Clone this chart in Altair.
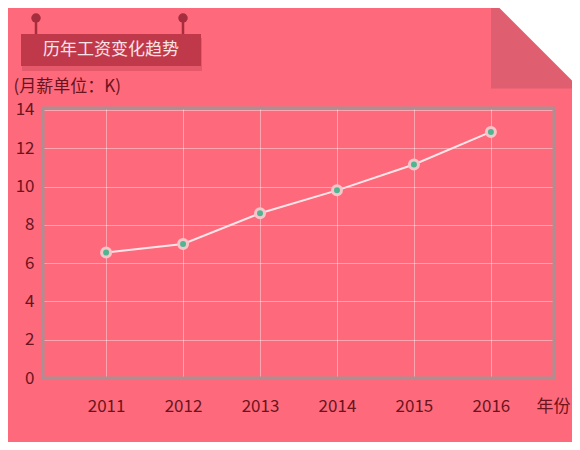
import altair as alt
import pandas as pd

# ---- data ----
years = ["2011", "2012", "2013", "2014", "2015", "2016"]
salary = [6.55, 7.0, 8.6, 9.8, 11.15, 12.85]
y_ticks = [0, 2, 4, 6, 8, 10, 12, 14]
title_text = "历年工资变化趋势"
y_title = "(月薪单位：K)"
x_title = "年份"

BG = "#fe6a7b"
LABEL = "#6a1420"
FONT = "Noto Sans CJK SC"
W, H = 511, 270

df = pd.DataFrame({"year": years, "salary": salary})
one = pd.DataFrame({"k": [0]})

x_enc = alt.X(
    "year:O",
    scale=alt.Scale(type="point", padding=0.82),
    axis=alt.Axis(
        title=x_title, labelAngle=0, ticks=False, tickSize=0, domain=False,
        labelPadding=28, labelBaseline="middle", labelFontSize=17,
        labelColor=LABEL, labelFont=FONT,
        grid=True, gridColor="#ffffff", gridOpacity=0.4, gridWidth=1,
        titleX=510, titleY=28, titleAlign="center", titleBaseline="middle",
        titleFontSize=17, titleFontWeight="normal", titleColor=LABEL, titleFont=FONT,
    ),
)
y_enc = alt.Y(
    "salary:Q",
    scale=alt.Scale(domain=[0, 14.1], nice=False, zero=True),
    axis=alt.Axis(
        values=y_ticks, format="d", title=y_title, ticks=False, tickSize=0,
        domain=False, labelPadding=9, labelFontSize=17, labelColor=LABEL,
        labelFont=FONT, grid=True, gridColor="#ffffff", gridOpacity=0.4, gridWidth=1,
        titleAngle=0, titleX=-30, titleY=-22, titleAlign="left",
        titleBaseline="middle", titleFontSize=17, titleFontWeight="normal",
        titleColor=LABEL, titleFont=FONT,
    ),
)

# ---- decorations ----
fold_dark = alt.Chart(one).mark_point(
    shape="M -1 -1 L -1 1 L 1 1 Z", filled=True, fill="#df5f70",
    strokeWidth=0, opacity=1, size=89 * 89,
).encode(x=alt.value(492.5), y=alt.value(-64))
fold_white = alt.Chart(one).mark_point(
    shape="M -1 -1 L 1 -1 L 1 1 Z", filled=True, fill="#ffffff",
    strokeWidth=0, opacity=1, size=89 * 89,
).encode(x=alt.value(492.5), y=alt.value(-64))

banner_shadow = alt.Chart(one).mark_rect(color="#7a1020", opacity=0.18).encode(
    x=alt.value(-21), x2=alt.value(159), y=alt.value(-70), y2=alt.value(-37)
)
banner = alt.Chart(one).mark_rect(color="#c0394b").encode(
    x=alt.value(-22), x2=alt.value(158), y=alt.value(-74), y2=alt.value(-42)
)
stem1 = alt.Chart(one).mark_rule(color="#a52d3d", strokeWidth=2.5).encode(
    x=alt.value(-7), y=alt.value(-90), y2=alt.value(-74)
)
stem2 = alt.Chart(one).mark_rule(color="#a52d3d", strokeWidth=2.5).encode(
    x=alt.value(140), y=alt.value(-90), y2=alt.value(-74)
)
pin1 = alt.Chart(one).mark_circle(color="#a52d3d", opacity=1, size=90).encode(
    x=alt.value(-7), y=alt.value(-90)
)
pin2 = alt.Chart(one).mark_circle(color="#a52d3d", opacity=1, size=90).encode(
    x=alt.value(140), y=alt.value(-90)
)
banner_text = alt.Chart(one).mark_text(
    text=title_text, font=FONT, fontSize=17, color="#fbe3e5",
    align="center", baseline="middle",
).encode(x=alt.value(68), y=alt.value(-58))

frame = alt.Chart(one).mark_rect(
    fillOpacity=0, stroke="#ad8e92", strokeWidth=3
).encode(x=alt.value(0), x2=alt.value(W), y=alt.value(0), y2=alt.value(H))

line = alt.Chart(df).mark_line(color="#fde6e9", strokeWidth=2).encode(
    x=x_enc, y=y_enc
)
points = alt.Chart(df).mark_point(
    filled=True, fill="#52b592", stroke="#f7c4c9", strokeWidth=3,
    size=81, opacity=1,
).encode(x=x_enc, y=y_enc)

chart = alt.layer(
    fold_dark, fold_white, banner_shadow, banner, stem1, stem2, pin1, pin2,
    banner_text, line, frame, points,
).properties(
    width=W, height=H,
    autosize=alt.AutoSizeParams(type="none"),
    padding={"left": 35, "top": 100, "right": 18, "bottom": 64},
    background=BG,
).configure_view(stroke="transparent")

chart.save("out.html", embed_options={"renderer": "svg", "actions": False})
